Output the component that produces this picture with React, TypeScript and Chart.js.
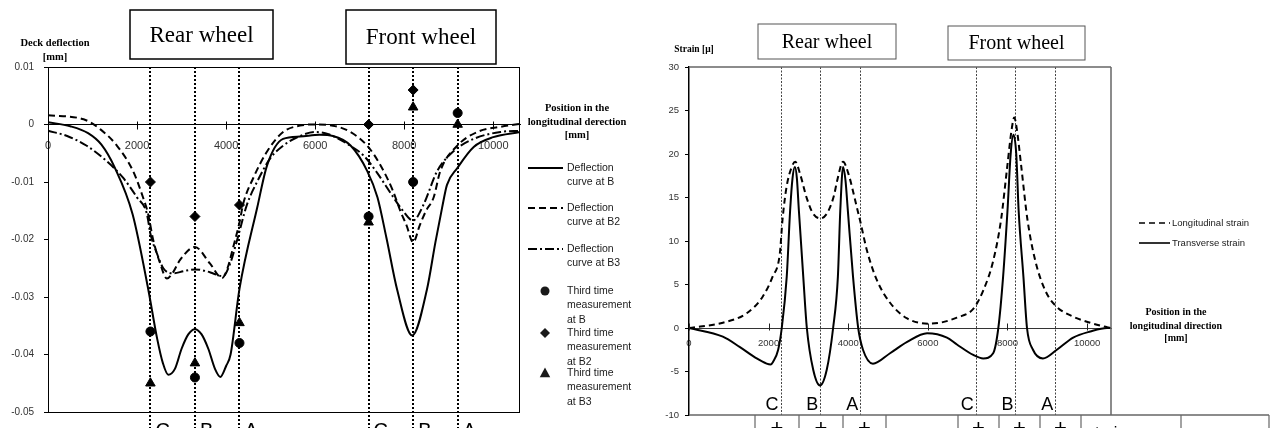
import React, { useEffect, useRef } from 'react';
import { Chart, registerables } from 'chart.js';

Chart.register(...registerables);

const SANS = "'Liberation Sans', Arial, sans-serif";
const SERIF = "'Liberation Serif', 'Times New Roman', serif";

// ---------------- data ----------------
const axlePositions = [2300, 3300, 4300, 7200, 8200, 9200];
const axleLabels = ['C', 'B', 'A', 'C', 'B', 'A'];
const positionTicks = [0, 2000, 4000, 6000, 8000, 10000];

// Deck deflection curves [mm] vs position [mm]
const defX_B = [0, 500, 900, 1200, 1500, 1900, 2250, 2450, 2580, 2700, 2850, 3000, 3150, 3300, 3450, 3600, 3750, 3870, 4000, 4100, 4300, 4700, 4920, 5280, 5660, 6100, 6400, 6800, 7170, 7400, 7600, 7840, 8180, 8510, 8700, 8850, 8960, 9190, 9560, 10000, 10600];
const defB = [0.0004, -0.0003, -0.0015, -0.0035, -0.0075, -0.0156, -0.0286, -0.0372, -0.0415, -0.0435, -0.0425, -0.039, -0.0365, -0.0356, -0.0365, -0.039, -0.0425, -0.0439, -0.042, -0.040, -0.0286, -0.0144, -0.0071, -0.0025, -0.0021, -0.0018, -0.0020, -0.0037, -0.0081, -0.0127, -0.0197, -0.0287, -0.0367, -0.0287, -0.0205, -0.0145, -0.0105, -0.0076, -0.0039, -0.0022, -0.0013];

const defX_B2 = [0, 800, 1170, 1550, 1910, 2135, 2250, 2360, 2520, 2670, 2800, 2970, 3300, 3640, 3910, 4030, 4160, 4310, 4380, 4610, 4920, 5280, 5660, 5960, 6400, 6790, 7170, 7460, 7750, 7910, 8050, 8200, 8350, 8490, 8660, 8810, 9190, 9640, 10160, 10600];
const defB2 = [0.0016, 0.0009, -0.0008, -0.0037, -0.0081, -0.0127, -0.0156, -0.020, -0.0242, -0.0268, -0.0258, -0.0235, -0.0213, -0.0242, -0.0267, -0.025, -0.0213, -0.0167, -0.0139, -0.0093, -0.0047, -0.0013, -0.0002, 0.0, -0.0002, -0.0013, -0.0037, -0.007, -0.0116, -0.015, -0.0175, -0.0205, -0.0175, -0.015, -0.0127, -0.0081, -0.0037, -0.0013, -0.0004, 0.0001];

const defX_B3 = [0, 430, 870, 1320, 1690, 2000, 2220, 2300, 2450, 2590, 2810, 3050, 3300, 3550, 3710, 3930, 4090, 4250, 4470, 4700, 4990, 5280, 5660, 6000, 6300, 6790, 7100, 7400, 7700, 7950, 8200, 8430, 8740, 9100, 9560, 10160, 10600];
const defB3 = [-0.0011, -0.002, -0.0037, -0.0064, -0.0093, -0.0127, -0.0155, -0.019, -0.0225, -0.025, -0.0259, -0.0255, -0.0252, -0.0255, -0.0259, -0.0264, -0.0242, -0.020, -0.0139, -0.0099, -0.0059, -0.0037, -0.002, -0.0013, -0.0017, -0.0037, -0.0055, -0.0085, -0.012, -0.0148, -0.0167, -0.014, -0.0081, -0.0047, -0.0025, -0.0013, -0.0011];

// Third time measurements at the axle positions
const measuredB = [-0.036, -0.044, -0.038, -0.016, -0.010, 0.002];
const measuredB2 = [-0.010, -0.016, -0.014, 0.000, 0.006, null];
const measuredB3 = [-0.045, -0.0415, -0.0345, -0.017, 0.003, 0.000];

// Strain [μ] vs position [mm]
const strainX_L = [0, 850, 1450, 1850, 2100, 2280, 2350, 2450, 2580, 2670, 2790, 2960, 3110, 3300, 3470, 3640, 3720, 3870, 4000, 4220, 4300, 4470, 4720, 5050, 5480, 6050, 6300, 6730, 7140, 7390, 7640, 7840, 7990, 8110, 8170, 8230, 8350, 8500, 8700, 8950, 9200, 9650, 10080, 10500, 10600];
const longitudinalStrain = [0, 0.6, 1.7, 3.6, 5.9, 8.5, 12.5, 16.2, 18.5, 19.1, 17.7, 14.9, 13.2, 12.6, 13.2, 15.2, 16.9, 19.1, 17.8, 13.8, 12.3, 8.9, 5.5, 2.9, 1.1, 0.5, 0.6, 1.2, 2.2, 4.3, 7.7, 12.5, 18.4, 23.0, 24.2, 23.0, 18.4, 12.5, 7.7, 4.3, 2.6, 1.3, 0.6, 0.1, 0];

const strainX_T = [0, 850, 1280, 1700, 1950, 2050, 2110, 2240, 2330, 2455, 2540, 2600, 2660, 2710, 2760, 2870, 2960, 3120, 3290, 3460, 3620, 3740, 3800, 3870, 3930, 3990, 4120, 4250, 4370, 4620, 5050, 5480, 5980, 6480, 6730, 7140, 7390, 7640, 7770, 7890, 8000, 8080, 8150, 8220, 8280, 8400, 8490, 8640, 8890, 9240, 9650, 10080, 10500, 10600];
const transverseStrain = [0, -1.0, -2.2, -3.5, -4.1, -4.2, -3.9, -2.5, 0, 5.9, 13.5, 17.2, 18.5, 17.2, 13.5, 5.9, 0, -4.8, -6.6, -4.8, 0, 5.9, 13.5, 18.5, 17.0, 13.5, 5.9, 0, -2.5, -4.1, -2.9, -1.6, -0.6, -1.1, -1.9, -3.1, -3.5, -2.9, 0, 5.9, 13.5, 20.0, 22.2, 20.0, 13.5, 5.9, 0, -2.5, -3.5, -2.5, -1.1, -0.4, 0, 0];

const legendLeft = [
  ['Deflection', 'curve at B'],
  ['Deflection', 'curve at B2'],
  ['Deflection', 'curve at B3'],
  ['Third time', 'measurement', 'at B'],
  ['Third time', 'measurement', 'at B2'],
  ['Third time', 'measurement', 'at B3'],
];
const legendRight = ['Longitudinal strain', 'Transverse strain'];
const tableCellText = 'strain gauge';

// ---------------- helpers ----------------
const zip = (xs: number[], ys: (number | null)[]) =>
  xs.map((x, i) => ({ x, y: ys[i] })).filter((p) => p.y !== null);

const curve = (label: string, xs: number[], ys: number[], dash: number[]) => ({
  label,
  data: zip(xs, ys),
  borderColor: '#000',
  backgroundColor: '#000',
  borderWidth: 2,
  borderDash: dash,
  pointRadius: 0,
  fill: false,
  cubicInterpolationMode: 'monotone',
});

const marks = (label: string, ys: (number | null)[], style: string, r: number) => ({
  label,
  data: zip(axlePositions, ys),
  showLine: false,
  pointStyle: style,
  pointRadius: r,
  pointBackgroundColor: '#000',
  pointBorderColor: '#000',
  pointBorderWidth: 1,
  backgroundColor: '#000',
  borderColor: '#000',
});

const setTicks = (s: any) => {
  s.ticks = positionTicks.map((v) => ({ value: v }));
};

function seg(ctx: any, x1: number, y1: number, x2: number, y2: number) {
  ctx.beginPath();
  ctx.moveTo(x1, y1);
  ctx.lineTo(x2, y2);
  ctx.stroke();
}

function marker(ctx: any, style: string, x: number, y: number, r: number) {
  ctx.beginPath();
  if (style === 'circle') {
    ctx.arc(x, y, r, 0, Math.PI * 2);
  } else if (style === 'rectRot') {
    ctx.moveTo(x, y - r);
    ctx.lineTo(x + r, y);
    ctx.lineTo(x, y + r);
    ctx.lineTo(x - r, y);
    ctx.closePath();
  } else {
    ctx.moveTo(x, y - r);
    ctx.lineTo(x + r * 0.95, y + r * 0.75);
    ctx.lineTo(x - r * 0.95, y + r * 0.75);
    ctx.closePath();
  }
  ctx.fill();
}

function wheelBox(ctx: any, x: number, y: number, w: number, h: number, text: string, size: number, color: string, lw: number) {
  ctx.save();
  ctx.fillStyle = '#fff';
  ctx.fillRect(x, y, w, h);
  ctx.strokeStyle = color;
  ctx.lineWidth = lw;
  ctx.setLineDash([]);
  ctx.strokeRect(x, y, w, h);
  ctx.fillStyle = '#000';
  ctx.font = `${size}px ${SERIF}`;
  ctx.textAlign = 'center';
  ctx.textBaseline = 'middle';
  ctx.fillText(text, x + w / 2, y + h / 2 + 1);
  ctx.restore();
}

function lines(ctx: any, texts: string[], cx: number, ys: number[], font: string, align = 'center') {
  ctx.font = font;
  ctx.textAlign = align;
  ctx.textBaseline = 'middle';
  texts.forEach((t, i) => ctx.fillText(t, cx, ys[i]));
}

// ---------------- left chart plugin ----------------
const leftDecor = {
  id: 'leftDecor',
  beforeDatasetsDraw(chart: any) {
    const { ctx, chartArea: a, scales } = chart;
    ctx.save();
    ctx.strokeStyle = '#000';
    ctx.lineWidth = 2;
    ctx.setLineDash([2, 2]);
    axlePositions.forEach((p) => {
      const px = Math.round(scales.x.getPixelForValue(p));
      seg(ctx, px, a.top, px, chart.height);
    });
    ctx.restore();
  },
  afterDraw(chart: any) {
    const { ctx, chartArea: a, scales } = chart;
    const x = scales.x;
    const y = scales.y;
    ctx.save();
    ctx.strokeStyle = '#000';
    ctx.fillStyle = '#000';
    ctx.lineWidth = 1;
    ctx.setLineDash([]);
    ctx.strokeRect(Math.round(a.left) + 0.5, Math.round(a.top) + 0.5, Math.round(a.right - a.left) - 1, Math.round(a.bottom - a.top));
    const y0 = Math.round(y.getPixelForValue(0)) + 0.5;
    x.ticks.forEach((t: any) => {
      const px = Math.round(x.getPixelForValue(t.value)) + 0.5;
      seg(ctx, px, y0 - 4, px, y0 + 4);
    });
    // axle letters (below plot)
    ctx.font = `20px ${SANS}`;
    ctx.textAlign = 'left';
    ctx.textBaseline = 'alphabetic';
    axlePositions.forEach((p, i) => ctx.fillText(axleLabels[i], x.getPixelForValue(p) + 5, 437));
    // wheel boxes
    wheelBox(ctx, 130, 10, 143, 49, 'Rear wheel', 23, '#000', 1.5);
    wheelBox(ctx, 346, 10, 150, 54, 'Front wheel', 23, '#000', 1.5);
    // axis titles
    ctx.fillStyle = '#000';
    lines(ctx, ['Deck deflection', '[mm]'], 55, [43, 57], `bold 10.5px ${SERIF}`);
    lines(ctx, ['Position in the', 'longitudinal derection', '[mm]'], 577, [108, 122, 135], `bold 10.5px ${SERIF}`);
    // legend
    const rows = [168, 208, 249, 291, 333, 373];
    const ds = chart.data.datasets;
    ctx.strokeStyle = '#000';
    ctx.lineWidth = 2;
    rows.forEach((ry, i) => {
      const d = ds[i];
      if (i < 3) {
        ctx.setLineDash(d.borderDash || []);
        seg(ctx, 528, ry, 563, ry);
        ctx.setLineDash([]);
      } else {
        marker(ctx, d.pointStyle, 545, ry, d.pointRadius);
      }
      ctx.fillStyle = '#1a1a1a';
      lines(ctx, legendLeft[i], 567, legendLeft[i].map((_, k) => ry + k * 14.5), `10.5px ${SANS}`, 'left');
    });
    ctx.restore();
  },
};

// ---------------- right chart plugin ----------------
const tableCols = [115, 159, 203, 246, 318, 359, 400, 441, 541, 629];
const plusCells = [0, 1, 2, 4, 5, 6];

const rightDecor = {
  id: 'rightDecor',
  beforeDatasetsDraw(chart: any) {
    const { ctx, chartArea: a, scales } = chart;
    ctx.save();
    ctx.strokeStyle = '#444';
    ctx.lineWidth = 1;
    ctx.setLineDash([2, 1.5]);
    axlePositions.forEach((p) => {
      const px = Math.round(scales.x.getPixelForValue(p)) + 0.5;
      seg(ctx, px, a.top, px, a.bottom);
    });
    ctx.restore();
  },
  afterDraw(chart: any) {
    const { ctx, chartArea: a, scales } = chart;
    const x = scales.x;
    const y = scales.y;
    ctx.save();
    ctx.setLineDash([]);
    ctx.strokeStyle = '#666';
    ctx.lineWidth = 1.5;
    const T = Math.round(a.top);
    const R = Math.round(a.right);
    const B = Math.round(a.bottom);
    seg(ctx, a.left, T, R, T);
    seg(ctx, R, T, R, B);
    seg(ctx, a.left, B, tableCols[tableCols.length - 1], B);
    ctx.lineWidth = 1.2;
    tableCols.forEach((cx) => seg(ctx, cx, B, cx, chart.height));
    // x ticks crossing zero line
    ctx.strokeStyle = '#222';
    ctx.lineWidth = 1;
    const y0 = Math.round(y.getPixelForValue(0)) + 0.5;
    x.ticks.forEach((t: any) => {
      const px = Math.round(x.getPixelForValue(t.value)) + 0.5;
      seg(ctx, px, y0 - 5, px, y0 + 2);
    });
    // letters
    ctx.fillStyle = '#000';
    ctx.font = `18px ${SANS}`;
    ctx.textAlign = 'right';
    ctx.textBaseline = 'alphabetic';
    axlePositions.forEach((p, i) => ctx.fillText(axleLabels[i], x.getPixelForValue(p) - 2, 410));
    // table content
    ctx.font = `22px ${SANS}`;
    ctx.textAlign = 'center';
    plusCells.forEach((c) => ctx.fillText('+', (tableCols[c] + tableCols[c + 1]) / 2, 435));
    ctx.font = `16px ${SANS}`;
    ctx.fillText(tableCellText, (tableCols[7] + tableCols[8]) / 2, 438);
    // wheel boxes
    wheelBox(ctx, 118, 24, 138, 35, 'Rear wheel', 20, '#555', 1);
    wheelBox(ctx, 308, 26, 137, 34, 'Front wheel', 20, '#555', 1);
    // titles
    ctx.fillStyle = '#000';
    lines(ctx, ['Strain [μ]'], 54, [50], `bold 9.5px ${SERIF}`);
    lines(ctx, ['Position in the', 'longitudinal direction', '[mm]'], 536, [312, 326, 338], `bold 10px ${SERIF}`);
    // legend
    const ds = chart.data.datasets;
    ctx.strokeStyle = '#000';
    ctx.lineWidth = 1.6;
    [223, 243].forEach((ry, i) => {
      ctx.setLineDash(ds[i].borderDash || []);
      seg(ctx, 499, ry, 530, ry);
      ctx.setLineDash([]);
      ctx.fillStyle = '#1a1a1a';
      lines(ctx, [legendRight[i]], 532, [ry], `9.5px ${SANS}`, 'left');
    });
    ctx.restore();
  },
};

// ---------------- configs ----------------
const leftConfig = (): any => ({
  type: 'line',
  data: {
    datasets: [
      curve('Deflection curve at B', defX_B, defB, []),
      curve('Deflection curve at B2', defX_B2, defB2, [7, 4]),
      curve('Deflection curve at B3', defX_B3, defB3, [9, 3, 2, 3]),
      marks('Third time measurement at B', measuredB, 'circle', 4.5),
      marks('Third time measurement at B2', measuredB2, 'rectRot', 5),
      marks('Third time measurement at B3', measuredB3, 'triangle', 5.5),
    ],
  },
  options: {
    responsive: false,
    animation: false,
    layout: { padding: { left: 0, right: 120, top: 67, bottom: 9 } },
    plugins: { legend: { display: false }, tooltip: { enabled: false } },
    scales: {
      x: {
        type: 'linear',
        min: 0,
        max: 10600,
        position: { y: 0 },
        afterBuildTicks: setTicks,
        grid: { display: false, drawTicks: false },
        border: { display: true, color: '#000', width: 1 },
        ticks: { padding: 15, color: '#333', font: { family: SANS, size: 11 }, maxRotation: 0, autoSkip: false, callback: (v: number) => String(v) },
      },
      y: {
        type: 'linear',
        min: -0.05,
        max: 0.01,
        grid: { drawOnChartArea: false, tickLength: 4, color: '#000' },
        border: { display: true, color: '#000', width: 1 },
        ticks: {
          stepSize: 0.01,
          padding: 10,
          color: '#333',
          font: { family: SANS, size: 10 },
          callback: (v: number) => {
            const n = Math.round(v * 1000) / 1000;
            return n === 0 ? '0' : String(n);
          },
        },
        afterFit: (s: any) => {
          s.width = 48;
        },
      },
    },
  },
  plugins: [leftDecor],
});

const rightConfig = (): any => ({
  type: 'line',
  data: {
    datasets: [
      curve('Longitudinal strain', strainX_L, longitudinalStrain, [6, 4]),
      curve('Transverse strain', strainX_T, transverseStrain, []),
    ],
  },
  options: {
    responsive: false,
    animation: false,
    layout: { padding: { left: 0, right: 169, top: 67, bottom: 13 } },
    plugins: { legend: { display: false }, tooltip: { enabled: false } },
    scales: {
      x: {
        type: 'linear',
        min: 0,
        max: 10600,
        position: { y: 0 },
        afterBuildTicks: setTicks,
        grid: { display: false, drawTicks: false },
        border: { display: true, color: '#333', width: 1 },
        ticks: { padding: 10, color: '#333', font: { family: SANS, size: 9.5 }, maxRotation: 0, autoSkip: false, callback: (v: number) => String(v) },
      },
      y: {
        type: 'linear',
        min: -10,
        max: 30,
        grid: { drawOnChartArea: false, tickLength: 4, color: '#000' },
        border: { display: true, color: '#000', width: 1.5 },
        ticks: { stepSize: 5, padding: 6, color: '#333', font: { family: SANS, size: 9.5 } },
        afterFit: (s: any) => {
          s.width = 49;
        },
      },
    },
  },
  plugins: [rightDecor],
});

export default function App() {
  const leftRef = useRef<HTMLCanvasElement>(null);
  const rightRef = useRef<HTMLCanvasElement>(null);
  useEffect(() => {
    const c1 = new Chart(leftRef.current as HTMLCanvasElement, leftConfig());
    const c2 = new Chart(rightRef.current as HTMLCanvasElement, rightConfig());
    return () => {
      c1.destroy();
      c2.destroy();
    };
  }, []);
  return (
    <div style={{ position: 'absolute', left: 0, top: 0, width: 1280, height: 428, background: '#fff', overflow: 'hidden' }}>
      <canvas ref={leftRef} width={640} height={428} style={{ position: 'absolute', left: 0, top: 0, width: 640, height: 428 }} />
      <canvas ref={rightRef} width={640} height={428} style={{ position: 'absolute', left: 640, top: 0, width: 640, height: 428 }} />
    </div>
  );
}
